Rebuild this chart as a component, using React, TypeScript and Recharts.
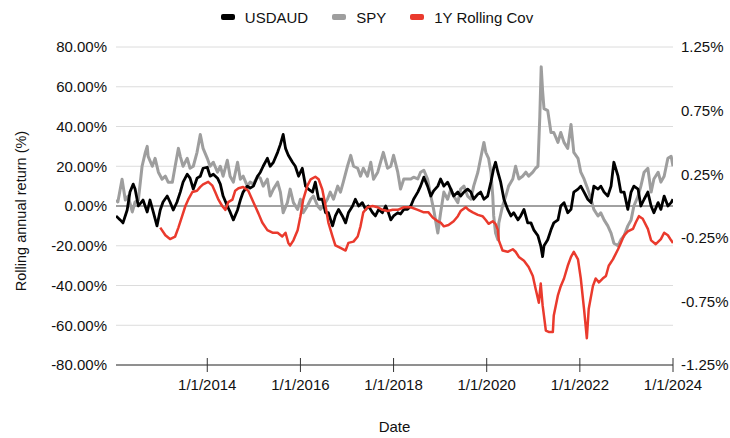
import React from "react";
import { LineChart, Line, XAxis, YAxis, CartesianGrid, ReferenceLine, Label } from "recharts";

// ---- Data (decimal-year dates, values) ----
const usdaudDates = [2012.04,2012.13,2012.19,2012.28,2012.34,2012.41,2012.45,2012.52,2012.62,2012.71,2012.77,2012.84,2012.92,2012.99,2013.05,2013.14,2013.20,2013.27,2013.35,2013.42,2013.48,2013.57,2013.63,2013.70,2013.78,2013.85,2013.91,2014.00,2014.06,2014.13,2014.22,2014.28,2014.34,2014.43,2014.49,2014.56,2014.65,2014.71,2014.77,2014.86,2014.92,2014.99,2015.08,2015.14,2015.20,2015.29,2015.35,2015.42,2015.51,2015.57,2015.63,2015.68,2015.74,2015.83,2015.89,2015.96,2016.04,2016.11,2016.17,2016.26,2016.32,2016.39,2016.47,2016.54,2016.60,2016.69,2016.75,2016.82,2016.90,2016.97,2017.03,2017.12,2017.18,2017.25,2017.33,2017.40,2017.46,2017.55,2017.61,2017.68,2017.76,2017.83,2017.89,2017.94,2018.00,2018.09,2018.15,2018.22,2018.30,2018.37,2018.43,2018.52,2018.58,2018.65,2018.73,2018.80,2018.86,2018.95,2019.01,2019.08,2019.16,2019.23,2019.29,2019.38,2019.44,2019.51,2019.59,2019.66,2019.72,2019.81,2019.87,2019.94,2020.02,2020.09,2020.15,2020.19,2020.24,2020.30,2020.37,2020.45,2020.52,2020.58,2020.67,2020.73,2020.80,2020.88,2020.95,2021.01,2021.10,2021.16,2021.20,2021.23,2021.31,2021.38,2021.44,2021.53,2021.59,2021.66,2021.74,2021.81,2021.87,2021.96,2022.02,2022.09,2022.17,2022.24,2022.30,2022.39,2022.45,2022.52,2022.60,2022.67,2022.73,2022.82,2022.88,2022.95,2023.03,2023.10,2023.16,2023.25,2023.31,2023.38,2023.46,2023.53,2023.59,2023.68,2023.74,2023.81,2023.89,2023.96,2024.00];
const usdaudValues = [-5,-7,-8.5,-2,7,11,8.5,0,3,-3,3,-3,-10,-2,2,5,2,-2,2,7,12,16,14,8.5,14,15,19,19.5,15,16,14,11,5,0,-3,-7,-2,3,7,10,9,10,15,17,20,24,20,22,27,31,36,29,25.5,22,20,15,19,10,8.5,7,12,3.4,3.4,-3.4,-3.4,-10,-5,-1.7,-5,-8.5,-3.4,0,3.4,0,1.7,-1.7,0,-3.4,-5,-1.7,-3.4,0,-3.4,-7,-5,-3.4,-4,-1.7,-1.7,0,3.4,7,10,14.5,10,5,7.6,10,13.6,10,12,8.5,5,7,5,7,8.5,7,3.4,6,7,3.4,5,12,19,22,17,12,3.4,-1.7,-5,-3.4,-7,-5,-1.7,-8.5,-8.5,-12,-15,-20,-25.5,-20,-17,-12,-8.5,-7,0,1.7,-3.4,-1.7,7,8.5,10,7,3.4,1.7,10,8.5,10,7,5,10,22,15,7,7,-1.7,7,10,8.5,0,3.4,7,0,-3.4,1.7,-1.7,5,0,1.7,3.4];

const spyDates = [2012.04,2012.08,2012.17,2012.24,2012.30,2012.39,2012.45,2012.52,2012.60,2012.67,2012.71,2012.73,2012.82,2012.88,2012.95,2013.03,2013.10,2013.16,2013.25,2013.31,2013.38,2013.42,2013.48,2013.57,2013.63,2013.70,2013.78,2013.85,2013.91,2014.00,2014.06,2014.13,2014.22,2014.28,2014.34,2014.43,2014.49,2014.56,2014.65,2014.71,2014.77,2014.86,2014.92,2014.99,2015.08,2015.14,2015.20,2015.29,2015.35,2015.42,2015.51,2015.57,2015.63,2015.72,2015.78,2015.85,2015.94,2016.00,2016.06,2016.15,2016.22,2016.28,2016.37,2016.43,2016.49,2016.58,2016.64,2016.71,2016.80,2016.86,2016.92,2017.01,2017.08,2017.14,2017.23,2017.29,2017.35,2017.44,2017.51,2017.57,2017.66,2017.72,2017.78,2017.87,2017.94,2018.00,2018.09,2018.15,2018.22,2018.30,2018.37,2018.43,2018.52,2018.58,2018.65,2018.73,2018.80,2018.86,2018.95,2019.01,2019.08,2019.16,2019.23,2019.29,2019.38,2019.44,2019.51,2019.59,2019.66,2019.72,2019.81,2019.87,2019.94,2019.98,2020.04,2020.09,2020.13,2020.15,2020.19,2020.24,2020.26,2020.34,2020.41,2020.47,2020.56,2020.62,2020.69,2020.77,2020.84,2020.90,2020.99,2021.05,2021.10,2021.14,2021.17,2021.20,2021.23,2021.31,2021.38,2021.44,2021.53,2021.59,2021.66,2021.74,2021.81,2021.87,2021.96,2022.02,2022.09,2022.17,2022.24,2022.30,2022.39,2022.45,2022.52,2022.60,2022.67,2022.73,2022.82,2022.88,2022.95,2023.03,2023.10,2023.16,2023.25,2023.31,2023.38,2023.46,2023.53,2023.59,2023.68,2023.74,2023.81,2023.89,2023.96,2024.00];
const spyValues = [3,2,13.5,3,5,-3,2,3,20,27,30,25,20,24,17,13.5,15,12,12,20,29,25,20,24,19,20,27,36,29,24,20,22,17,20,15,23,15,12,22,13.5,15,10,12,11,15,14,10,13.5,5,8.5,12,7,-3.4,1.7,8.5,1.7,-1.7,3.4,-3.4,0,3.4,5,0,-1.7,0,3.4,7,3.4,10,7,12,20,25.5,20,19,15,19,15,22,13.5,17,22,27,19,20,25.5,17,8.5,13.6,13.6,13.6,14.5,13.6,17,18,13.6,5,-1.7,-13.6,-3.4,7,3.4,8.5,5,1.7,8.5,10,5,3.4,10,17,24,32,27,24,17,5,-5,-13.6,-17,-8.5,0,5,10,13.6,20,13.6,15,17,15,17,19,20,45,70,58,49,48,37,37,32,37,32,29,41,27,24,17,13.6,8.5,3.4,-1.7,-5,-3.4,-7,-10,-13.6,-18.7,-20,-17,-15,-10,-7,0,5,10,17,19,7,13.6,17,12,15,24,25,20];

const covDates = [2012.99,2013.10,2013.20,2013.31,2013.38,2013.46,2013.53,2013.59,2013.68,2013.78,2013.85,2013.91,2014.02,2014.11,2014.17,2014.24,2014.32,2014.39,2014.45,2014.54,2014.60,2014.67,2014.77,2014.88,2014.99,2015.10,2015.18,2015.29,2015.40,2015.51,2015.61,2015.68,2015.74,2015.78,2015.85,2015.94,2016.00,2016.06,2016.15,2016.22,2016.32,2016.39,2016.47,2016.54,2016.60,2016.69,2016.75,2016.86,2016.97,2017.03,2017.14,2017.23,2017.29,2017.35,2017.44,2017.55,2017.66,2017.76,2017.87,2017.98,2018.09,2018.22,2018.37,2018.52,2018.65,2018.75,2018.84,2018.95,2019.01,2019.08,2019.18,2019.29,2019.38,2019.44,2019.55,2019.61,2019.70,2019.81,2019.91,2019.98,2020.04,2020.13,2020.19,2020.24,2020.26,2020.34,2020.45,2020.56,2020.62,2020.69,2020.80,2020.90,2020.99,2021.05,2021.12,2021.16,2021.20,2021.27,2021.33,2021.42,2021.44,2021.53,2021.59,2021.66,2021.74,2021.81,2021.87,2021.96,2022.02,2022.09,2022.15,2022.19,2022.28,2022.34,2022.41,2022.49,2022.56,2022.62,2022.71,2022.82,2022.88,2022.95,2023.03,2023.14,2023.20,2023.27,2023.35,2023.46,2023.53,2023.63,2023.74,2023.81,2023.89,2023.96,2024.00];
const covValues = [-0.17,-0.23,-0.26,-0.24,-0.17,-0.08,0,0.05,0.11,0.12,0.15,0.17,0.19,0.16,0.11,0.05,0,-0.03,0.03,0.05,0.12,0.14,0.15,0.12,0.03,-0.06,-0.13,-0.19,-0.21,-0.21,-0.24,-0.21,-0.29,-0.31,-0.27,-0.19,-0.08,0.05,0.16,0.21,0.23,0.21,0.13,0,-0.13,-0.24,-0.31,-0.33,-0.35,-0.29,-0.28,-0.24,-0.16,-0.05,-0.01,0,-0.01,-0.03,-0.04,-0.03,-0.03,-0.01,-0.01,-0.03,-0.05,-0.05,-0.09,-0.12,-0.13,-0.16,-0.15,-0.12,-0.08,-0.04,-0.01,-0.03,-0.05,-0.07,-0.08,-0.11,-0.14,-0.12,-0.14,-0.19,-0.27,-0.35,-0.36,-0.34,-0.36,-0.40,-0.43,-0.48,-0.55,-0.65,-0.76,-0.61,-0.78,-0.98,-0.99,-0.99,-0.86,-0.70,-0.63,-0.57,-0.47,-0.40,-0.36,-0.42,-0.57,-0.81,-1.04,-0.81,-0.63,-0.57,-0.60,-0.57,-0.55,-0.47,-0.42,-0.34,-0.29,-0.23,-0.20,-0.18,-0.13,-0.08,-0.10,-0.18,-0.27,-0.30,-0.26,-0.21,-0.23,-0.27,-0.29];

const xTicks = [2014, 2016, 2018, 2020, 2022, 2024];
const leftTicks = [-80, -60, -40, -20, 0, 20, 40, 60, 80];
const rightTicks = [-1.25, -0.75, -0.25, 0.25, 0.75, 1.25];

const seriesNames = ["USDAUD", "SPY", "1Y Rolling Cov"];
const seriesColors = ["#000000", "#9e9e9e", "#ea3a2d"];

const zip = (d: number[], v: number[]) => d.map((t, i) => ({ t, v: v[i] }));
const usdaudData = zip(usdaudDates, usdaudValues);
const spyData = zip(spyDates, spyValues);
const covData = zip(covDates, covValues);

const FONT = "'Liberation Sans', Arial, Helvetica, sans-serif";

const XTick = (props: any) => {
  const { x, y, payload } = props;
  return (
    <g>
      <line x1={x} x2={x} y1={y - 7} y2={y + 7} stroke="#333" strokeWidth={1} />
      <text x={x} y={y + 25} textAnchor="middle" fontSize={15} fontFamily={FONT} fill="#111">
        {`1/1/${payload.value}`}
      </text>
    </g>
  );
};

const YTitle = (props: any) => {
  const vb = props.viewBox;
  const cx = 21;
  const cy = vb.y + vb.height / 2 + 5;
  return (
    <text x={cx} y={cy} transform={`rotate(-90, ${cx}, ${cy})`} textAnchor="middle" dominantBaseline="central" fontSize={14.5} fontFamily={FONT} fill="#111">
      Rolling annual return (%)
    </text>
  );
};

export default function App() {
  return (
    <div style={{ position: "absolute", left: 0, top: 0, width: 730, height: 438, background: "#fff", fontFamily: FONT }}>
      <div style={{ position: "absolute", left: 12, top: 8, width: 730, height: 18, display: "flex", justifyContent: "center", alignItems: "center", fontSize: 15, color: "#111" }}>
        {seriesNames.map((n, i) => (
          <div key={n} style={{ display: "flex", alignItems: "center", marginRight: i < seriesNames.length - 1 ? 24 : 0 }}>
            <div style={{ width: 14, height: 6, borderRadius: 2, background: seriesColors[i], marginRight: 10 }} />
            <span>{n}</span>
          </div>
        ))}
      </div>
      <LineChart width={730} height={438} margin={{ top: 47, right: 0, bottom: 0, left: 0 }}>
        <CartesianGrid yAxisId="left" vertical={false} stroke="#dcdcdc" strokeWidth={1} />
        <XAxis
          dataKey="t"
          type="number"
          domain={[2012.04, 2024]}
          allowDataOverflow
          ticks={xTicks}
          tick={<XTick />}
          tickLine={false}
          tickSize={0}
          tickMargin={0}
          height={73}
          stroke="#333"
          interval={0}
        >
          <Label value="Date" position="insideBottom" offset={6} fontSize={15} fontFamily={FONT} fill="#111" />
        </XAxis>
        <YAxis
          yAxisId="left"
          orientation="left"
          width={116}
          domain={[-80, 80]}
          ticks={leftTicks}
          tickFormatter={(v: number) => `${v.toFixed(2)}%`}
          axisLine={false}
          tickLine={false}
          tickSize={0}
          tickMargin={9}
          tick={{ fontSize: 15, fontFamily: FONT, fill: "#111" }}
          interval={0}
        >
          <Label content={<YTitle />} />
        </YAxis>
        <YAxis
          yAxisId="right"
          orientation="right"
          width={57}
          domain={[-1.25, 1.25]}
          ticks={rightTicks}
          tickFormatter={(v: number) => `${v.toFixed(2)}%`}
          axisLine={false}
          tickLine={false}
          tickSize={0}
          tickMargin={8}
          tick={{ fontSize: 15, fontFamily: FONT, fill: "#111" }}
          interval={0}
        />
        <ReferenceLine yAxisId="left" y={0} stroke="#555" strokeWidth={1} />
        <Line yAxisId="left" data={spyData} dataKey="v" name="SPY" stroke={seriesColors[1]} strokeWidth={3} dot={false} isAnimationActive={false} strokeLinejoin="round" />
        <Line yAxisId="left" data={usdaudData} dataKey="v" name="USDAUD" stroke={seriesColors[0]} strokeWidth={2.8} dot={false} isAnimationActive={false} strokeLinejoin="round" />
        <Line yAxisId="right" data={covData} dataKey="v" name="1Y Rolling Cov" stroke={seriesColors[2]} strokeWidth={2.5} dot={false} isAnimationActive={false} strokeLinejoin="round" />
      </LineChart>
    </div>
  );
}
